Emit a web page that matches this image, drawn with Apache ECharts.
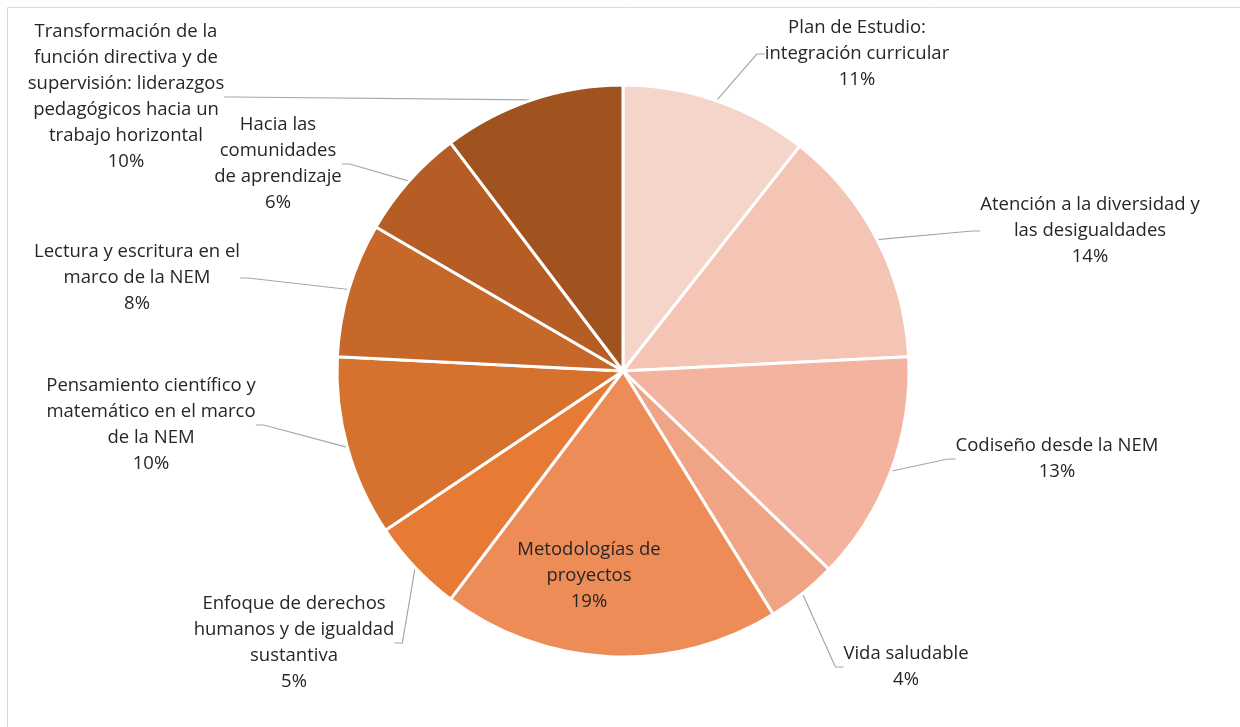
<!DOCTYPE html>
<html><head><meta charset="utf-8">
<script src="https://cdn.jsdelivr.net/npm/echarts@6/dist/echarts.min.js"></script>
<style>html,body{margin:0;padding:0;background:#fff}#c{width:1240px;height:727px}</style>
</head><body><div id="c"></div>
<script>
const categories = [
  'Plan de Estudio:\nintegración curricular',
  'Atención a la diversidad y\nlas desigualdades',
  'Codiseño desde la NEM',
  'Vida saludable',
  'Metodologías de\nproyectos',
  'Enfoque de derechos\nhumanos y de igualdad\nsustantiva',
  'Pensamiento científico y\nmatemático en el marco\nde la NEM',
  'Lectura y escritura en el\nmarco de la NEM',
  'Hacia las\ncomunidades\nde aprendizaje',
  'Transformación de la\nfunción directiva y de\nsupervisión: liderazgos\npedagógicos hacia un\ntrabajo horizontal'
];
const values = [10.6, 13.6, 13.0, 4.0, 19.1, 5.3, 10.2, 7.6, 6.3, 10.3];
const colors = ['#F5D4CA','#F4C4B4','#F3B39E','#F0A385','#EE8C58','#E77A34','#D7712E','#C6682A','#B55D25','#A0521F'];
// centre of each label text block (px)
const labelPos = [[857,54],[1090,231],[1057,459],[906,667],[589,576],[294,643],[151,425],[137,278],[278,164],[126,97]];
const insideIndex = 4;

const chart = echarts.init(document.getElementById('c'), null, {renderer:'canvas'});
const data = categories.map((name, i) => {
  const d = { name: name, value: values[i], itemStyle: { color: colors[i] } };
  if (i === insideIndex) {
    d.label = { position: 'inside' };
    d.labelLine = { show: false };
  }
  return d;
});
chart.setOption({
  animation: false,
  backgroundColor: '#ffffff',
  graphic: [{
    type: 'rect', silent: true, z: -1,
    shape: { x: 7.5, y: 7.5, width: 1400, height: 900 },
    style: { fill: 'none', stroke: '#D9D9D9', lineWidth: 1 }
  }],
  series: [{
    type: 'pie',
    center: [623, 371],
    radius: 286,
    startAngle: 90,
    clockwise: true,
    data: data,
    itemStyle: { borderColor: '#ffffff', borderWidth: 3 },
    emphasis: { disabled: true },
    label: {
      show: true,
      position: 'outside',
      formatter: p => p.name + '\n' + Math.round(p.value) + '%',
      fontFamily: 'Open Sans',
      fontSize: 18.5,
      lineHeight: 26,
      color: '#262626',
      align: 'center'
    },
    labelLine: {
      show: true, length: 10, length2: 8,
      lineStyle: { color: '#A6A6A6', width: 1.2 }
    },
    labelLayout: function (params) {
      const p = labelPos[params.dataIndex];
      return { x: p[0], y: p[1], align: 'center', verticalAlign: 'middle', hideOverlap: false };
    }
  }]
});
</script>
</body></html>
